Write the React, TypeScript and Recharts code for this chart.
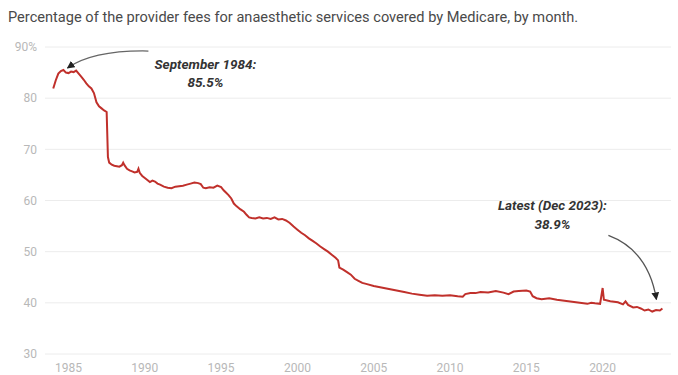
import React from 'react';
import { LineChart, Line, XAxis, YAxis, CartesianGrid, ReferenceDot } from 'recharts';

// Monthly readings, share of provider fee covered by Medicare (%)
const months = [
  '1984-01', '1984-03', '1984-05', '1984-07', '1984-09', '1984-11',
  '1985-01', '1985-03', '1985-05', '1985-07', '1985-09', '1985-11',
  '1986-01', '1986-03', '1986-05', '1986-07', '1986-09', '1986-11',
  '1987-01', '1987-03', '1987-05', '1987-07', '1987-08', '1987-09', '1987-11',
  '1988-01', '1988-03', '1988-05', '1988-07', '1988-08', '1988-09', '1988-11',
  '1989-01', '1989-03', '1989-05', '1989-07', '1989-08', '1989-09', '1989-11',
  '1990-01', '1990-03', '1990-05', '1990-07', '1990-09', '1990-11',
  '1991-01', '1991-04', '1991-07', '1991-10',
  '1992-01', '1992-04', '1992-07', '1992-10',
  '1993-01', '1993-04', '1993-07', '1993-09', '1993-11',
  '1994-01', '1994-04', '1994-07', '1994-10',
  '1995-01', '1995-03', '1995-05', '1995-07', '1995-09', '1995-11',
  '1996-01', '1996-04', '1996-07', '1996-09', '1996-11',
  '1997-01', '1997-04', '1997-07', '1997-10',
  '1998-01', '1998-04', '1998-07', '1998-10',
  '1999-01', '1999-04', '1999-07', '1999-10',
  '2000-01', '2000-04', '2000-07', '2000-10',
  '2001-01', '2001-04', '2001-07', '2001-10',
  '2002-01', '2002-04', '2002-07', '2002-09', '2002-10',
  '2003-01', '2003-04', '2003-07', '2003-10',
  '2004-01', '2004-04', '2004-07',
  '2005-01', '2005-07', '2006-01', '2006-07', '2007-01', '2007-07',
  '2008-01', '2008-07', '2009-01', '2009-07', '2010-01', '2010-07', '2010-11',
  '2011-01', '2011-05', '2011-09', '2012-01', '2012-07',
  '2013-01', '2013-07', '2013-11', '2014-03', '2014-07',
  '2015-01', '2015-04', '2015-06', '2015-09',
  '2016-01', '2016-07', '2017-01', '2017-07', '2018-01', '2018-07',
  '2019-01', '2019-04', '2019-07', '2019-11',
  '2020-01', '2020-02', '2020-07',
  '2021-01', '2021-05', '2021-07', '2021-09',
  '2022-01', '2022-04', '2022-07', '2022-10',
  '2023-01', '2023-04', '2023-07', '2023-10', '2023-12',
];

const feeShare = [
  81.9, 83.5, 84.8, 85.3, 85.5, 85.0,
  84.9, 85.2, 85.1, 85.4, 84.8, 84.2,
  83.6, 82.9, 82.3, 81.9, 81.0, 79.2,
  78.4, 78.0, 77.6, 77.3, 68.5, 67.4, 67.0,
  66.8, 66.7, 66.6, 66.9, 67.4, 66.9, 66.2,
  65.9, 65.7, 65.5, 65.6, 66.2, 65.4, 64.8,
  64.4, 64.0, 63.6, 63.9, 63.7, 63.3,
  63.1, 62.7, 62.5, 62.4,
  62.7, 62.8, 62.9, 63.1,
  63.3, 63.5, 63.4, 63.2, 62.5,
  62.4, 62.6, 62.5, 62.9,
  62.6, 62.0, 61.5, 61.0, 60.4, 59.4,
  58.9, 58.3, 57.8, 57.2, 56.7,
  56.6, 56.5, 56.7, 56.5,
  56.6, 56.4, 56.7, 56.3,
  56.4, 56.1, 55.6, 54.9,
  54.3, 53.7, 53.2, 52.6,
  52.1, 51.6, 51.0, 50.5,
  50.0, 49.4, 48.8, 48.3, 46.9,
  46.5, 46.0, 45.5, 44.7,
  44.3, 43.9, 43.7,
  43.3, 43.0, 42.7, 42.4, 42.1, 41.8,
  41.6, 41.4, 41.5, 41.4, 41.5, 41.3, 41.2,
  41.7, 41.9, 41.9, 42.1, 42.0,
  42.3, 42.0, 41.7, 42.2, 42.3,
  42.4, 42.2, 41.3, 40.9,
  40.7, 40.9, 40.6, 40.4, 40.2, 40.0,
  39.8, 40.0, 39.9, 39.8,
  42.9, 40.6, 40.3,
  40.1, 39.7, 40.3, 39.6,
  39.1, 39.2, 38.9, 38.5,
  38.7, 38.3, 38.6, 38.5, 38.9,
];

const yearTicks = [1985, 1990, 1995, 2000, 2005, 2010, 2015, 2020];
const pctTicks = [30, 40, 50, 60, 70, 80, 90];

const peakNote = { month: '1984-09', value: 85.5, label: 'September 1984:' };
const latestNote = { month: '2023-12', value: 38.9, label: 'Latest (Dec 2023):' };

const toYear = (m: string) => {
  const [y, mo] = m.split('-').map(Number);
  return y + (mo - 1) / 12;
};

const data = months.map((m, i) => ({ t: toYear(m), value: feeShare[i] }));

const LINE_RED = '#c0302b';
const TICK_GREY = '#b8b8b8';
const NOTE_STYLE = { fontFamily: 'Roboto, sans-serif', fontSize: 13.5, fontWeight: 700, fontStyle: 'italic', fill: '#333' } as const;

const Arrowhead = ({ id }: { id: string }) => (
  <defs>
    <marker id={id} viewBox="0 0 10 10" refX="9" refY="5" markerWidth="6" markerHeight="6" orient="auto">
      <path d="M0,0 L10,5 L0,10 z" fill="#222" />
    </marker>
  </defs>
);

const PeakLabel = ({ cx, cy }: any) => (
  <g>
    <Arrowhead id="peak-head" />
    <path
      d={`M${cx + 85},${cy - 19} Q${cx + 30},${cy - 20} ${cx + 4},${cy - 2}`}
      fill="none"
      stroke="#666"
      strokeWidth={1.3}
      markerEnd="url(#peak-head)"
    />
    <text x={cx + 142} y={cy - 6.5} textAnchor="middle" dominantBaseline="central" style={NOTE_STYLE}>
      {peakNote.label}
    </text>
    <text x={cx + 142} y={cy + 12} textAnchor="middle" dominantBaseline="central" style={NOTE_STYLE}>
      {`${peakNote.value}%`}
    </text>
  </g>
);

const LatestLabel = ({ cx, cy }: any) => (
  <g>
    <Arrowhead id="latest-head" />
    <path
      d={`M${cx - 54},${cy - 73} Q${cx - 14},${cy - 58} ${cx - 6},${cy - 9}`}
      fill="none"
      stroke="#555"
      strokeWidth={1.3}
      markerEnd="url(#latest-head)"
    />
    <text x={cx - 110} y={cy - 103.5} textAnchor="middle" dominantBaseline="central" style={NOTE_STYLE}>
      {latestNote.label}
    </text>
    <text x={cx - 110} y={cy - 84.5} textAnchor="middle" dominantBaseline="central" style={NOTE_STYLE}>
      {`${latestNote.value}%`}
    </text>
  </g>
);

export default function App() {
  return (
    <div style={{ position: 'relative', width: 678, height: 375, background: '#fff', fontFamily: 'Roboto, sans-serif' }}>
      <style>{'body { margin: 0; }'}</style>
      <div style={{ position: 'absolute', left: 8, top: 8, fontSize: 14.6, lineHeight: '18px', color: '#4a4a4a', whiteSpace: 'nowrap' }}>
        Percentage of the provider fees for anaesthetic services covered by Medicare, by month.
      </div>
      <LineChart width={678} height={375} data={data} margin={{ top: 47, right: 7, bottom: 0, left: 0 }}>
        <CartesianGrid vertical={false} stroke="#ececec" strokeWidth={1} />
        <XAxis
          dataKey="t"
          type="number"
          domain={[1983.46, 2024.48]}
          ticks={yearTicks}
          allowDataOverflow
          axisLine={false}
          tickLine={false}
          tickSize={6}
          tickMargin={3}
          height={21}
          tick={{ fill: TICK_GREY, fontSize: 12, fontFamily: 'Roboto, sans-serif' }}
        />
        <YAxis
          type="number"
          domain={[30, 90]}
          ticks={pctTicks}
          axisLine={false}
          tickLine={false}
          tickSize={0}
          tickMargin={8}
          width={45}
          tickFormatter={(v: number) => (v === 90 ? `${v}%` : String(v))}
          tick={{ fill: TICK_GREY, fontSize: 12, fontFamily: 'Roboto, sans-serif' }}
        />
        <Line
          type="linear"
          dataKey="value"
          stroke={LINE_RED}
          strokeWidth={2}
          dot={false}
          isAnimationActive={false}
        />
        <ReferenceDot x={toYear(peakNote.month)} y={peakNote.value} r={0} shape={PeakLabel} />
        <ReferenceDot x={toYear(latestNote.month)} y={latestNote.value} r={0} shape={LatestLabel} />
      </LineChart>
    </div>
  );
}
